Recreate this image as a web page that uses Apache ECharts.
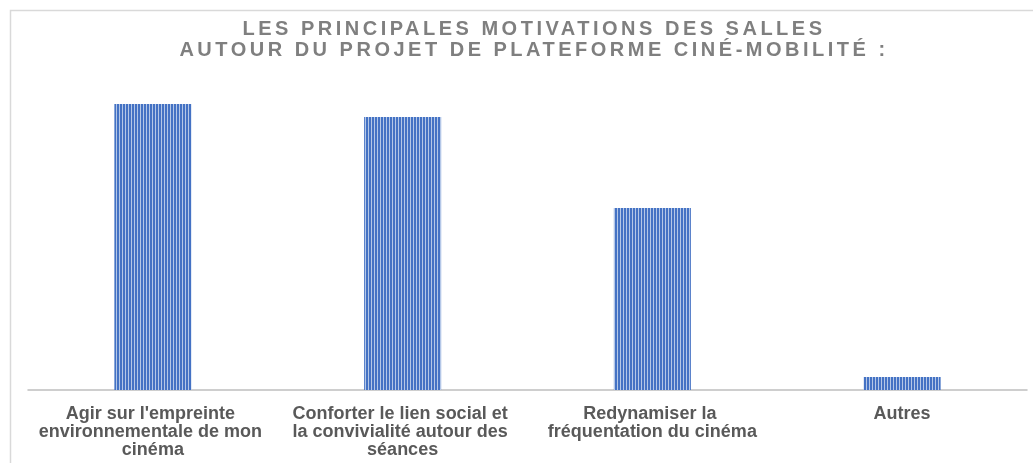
<!DOCTYPE html>
<html>
<head>
<meta charset="utf-8">
<script src="https://cdn.jsdelivr.net/npm/echarts@6/dist/echarts.min.js"></script>
<style>
  html, body { margin: 0; padding: 0; background: #fff; }
  .wrap { position: relative; width: 1033px; height: 463px; }
  #chart { width: 1033px; height: 463px; }
  .title {
    position: absolute; top: 18px; left: 0; width: 1068px;
    text-align: center; font: bold 20px "Liberation Sans", Arial, sans-serif;
    line-height: 21px; letter-spacing: 3.5px; color: #7f7f7f; pointer-events: none;
  }
</style>
</head>
<body>
<div class="wrap">
  <div id="chart"></div>
  <div class="title">LES PRINCIPALES MOTIVATIONS DES SALLES<br>AUTOUR DU PROJET DE PLATEFORME CINÉ-MOBILITÉ :</div>
</div>
<script>
  // données
  const categories = [
    "Agir sur l'empreinte environnementale de mon cinéma",
    'Conforter le lien social et la convivialité autour des séances',
    'Redynamiser la fréquentation du cinéma',
    'Autres'
  ];
  const values = [22, 21, 14, 1];

  // motif de rayures verticales
  const stripe = document.createElement('canvas');
  stripe.width = 3;
  stripe.height = 4;
  const ctx = stripe.getContext('2d');
  ctx.fillStyle = '#4472c4';
  ctx.fillRect(0, 0, 2, 4);
  ctx.fillStyle = '#b4c7e7';
  ctx.fillRect(2, 0, 1, 4);

  const myChart = echarts.init(document.getElementById('chart'));
  myChart.setOption({
    animation: false,
    grid: { left: 28, right: 6, top: 65, bottom: 73 },
    graphic: [{
      type: 'rect',
      shape: { x: 10.5, y: 10.5, width: 1100, height: 500 },
      style: { fill: 'none', stroke: '#d9d9d9', lineWidth: 1.5 },
      silent: true
    }],
    xAxis: {
      type: 'category',
      data: categories,
      axisTick: { show: false },
      axisLine: { lineStyle: { color: '#bfbfbf', width: 1.5 } },
      axisLabel: {
        interval: 0,
        margin: 15,
        width: 230,
        overflow: 'break',
        lineHeight: 18,
        fontSize: 18,
        fontWeight: 'bold',
        fontFamily: 'Liberation Sans, Arial, sans-serif',
        color: '#595959'
      }
    },
    yAxis: {
      type: 'value',
      min: 0,
      max: 25,
      show: false,
      splitLine: { show: false }
    },
    series: [{
      type: 'bar',
      data: values,
      barWidth: 77,
      itemStyle: { color: { image: stripe, repeat: 'repeat' } }
    }]
  });
</script>
</body>
</html>
